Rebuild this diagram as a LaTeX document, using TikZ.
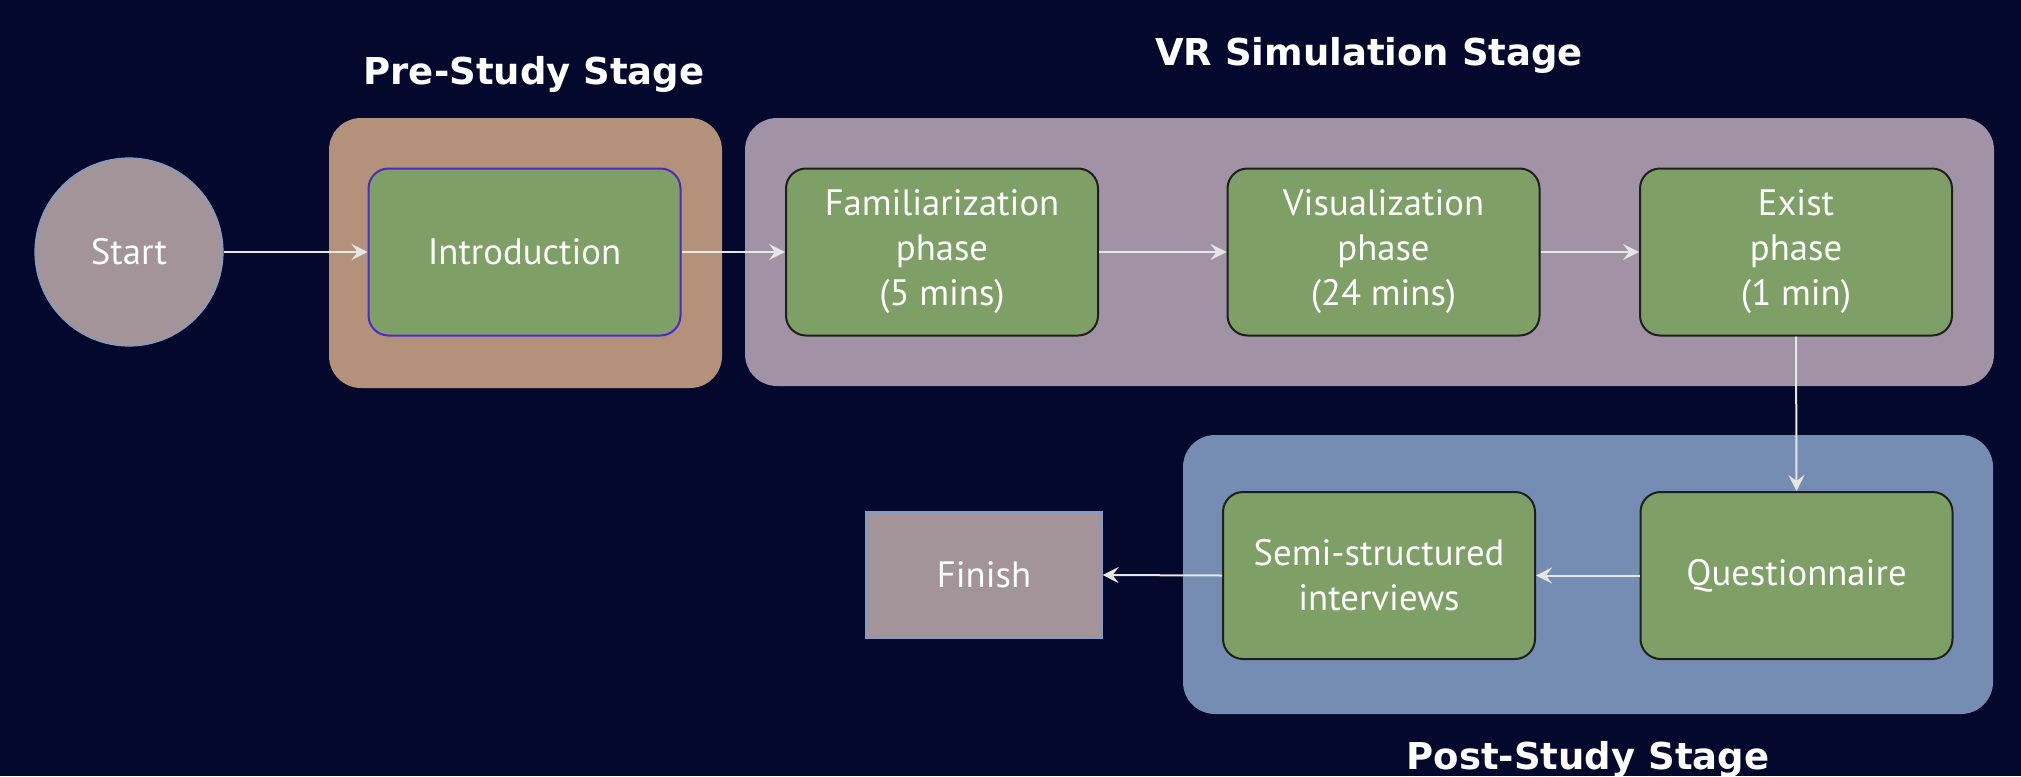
\documentclass[tikz,border=0pt]{standalone}
\usepackage{fontspec}
\setmainfont{PT Sans}
\newfontfamily\titlefont{DejaVu Sans}
\usetikzlibrary{arrows.meta}

\definecolor{bgnavy}{HTML}{04082C}
\definecolor{phasegreen}{HTML}{7EA066}
\definecolor{boxedge}{HTML}{1E1E1E}
\definecolor{introedge}{HTML}{5028C8}
\definecolor{prestage}{HTML}{B3917A}
\definecolor{vrstage}{HTML}{A192A5}
\definecolor{poststage}{HTML}{768DB3}
\definecolor{terminal}{HTML}{A39499}
\definecolor{terminaledge}{HTML}{7F9CCB}
\definecolor{flowline}{HTML}{E6E6E6}

\newcommand\phasefont{\fontsize{18.35}{22.5}\selectfont}
\newcommand\headfont{\titlefont\bfseries\fontsize{18.5}{22}\selectfont}

\begin{document}
\begin{tikzpicture}[x=0.5pt,y=-0.5pt,
  stagebox/.style={rounded corners=16pt, inner sep=0pt, draw=none},
  phasebox/.style={draw=boxedge, line width=1pt, fill=phasegreen,
    rounded corners=10pt, minimum width=156pt, minimum height=83.5pt,
    inner sep=0pt, text=white, align=center, font=\phasefont},
  terminalnode/.style={fill=terminal, draw=terminaledge, line width=0.6pt,
    inner sep=0pt, text=white, font=\phasefont},
  flow/.style={draw=flowline, line width=1pt,
    -{Stealth[length=8pt,width=8pt,inset=3pt]}},
  stagetitle/.style={anchor=base, text=white, inner sep=0pt, font=\headfont}
]
% canvas
\useasboundingbox (0,0) rectangle (2021,776);
\fill[bgnavy] (0,0) rectangle (2021,776);

% stage panels
\node[stagebox, fill=prestage, minimum width=196.5pt, minimum height=135pt]
  (pre) at (525.5,253) {};
\node[stagebox, fill=vrstage, minimum width=624.5pt, minimum height=134pt]
  (vr) at (1369.5,252) {};
\node[stagebox, fill=poststage, minimum width=405pt, minimum height=139.5pt]
  (post) at (1588,574.5) {};

% stage titles
\node[stagetitle] (pretitle) at (534,84) {Pre-Study Stage};
\node[stagetitle] (vrtitle) at (1369,65) {VR Simulation Stage};
\node[stagetitle] (posttitle) at (1588,769) {Post-Study Stage};

% start and finish
\node[terminalnode, circle, minimum size=94pt] (start) at (129,252) {Start};
\node[terminalnode, rectangle, minimum width=118pt, minimum height=63pt]
  (finish) at (984,575) {Finish};

% phases
\node[phasebox, draw=introedge] (intro) at (524.5,252) {Introduction};
\node[phasebox] (fam) at (942,252) {Familiarization\\phase\\(5 mins)};
\node[phasebox] (vis) at (1383.5,252) {Visualization\\phase\\(24 mins)};
\node[phasebox] (exist) at (1796,252) {Exist\\phase\\(1 min)};
\node[phasebox] (quest) at (1796.5,575.5) {Questionnaire};
\node[phasebox] (semi) at (1379,575.5) {Semi-structured\\interviews};

% flow
\draw[flow] (start.east) -- (intro.west);
\draw[flow] (intro.east) -- (fam.west);
\draw[flow] (fam.east) -- (vis.west);
\draw[flow] (vis.east) -- (exist.west);
\draw[flow] (exist.south) -- (quest.north);
\draw[flow] (quest.west) -- (semi.east);
\draw[flow] (semi.west) -- (finish.east);
\end{tikzpicture}
\end{document}
